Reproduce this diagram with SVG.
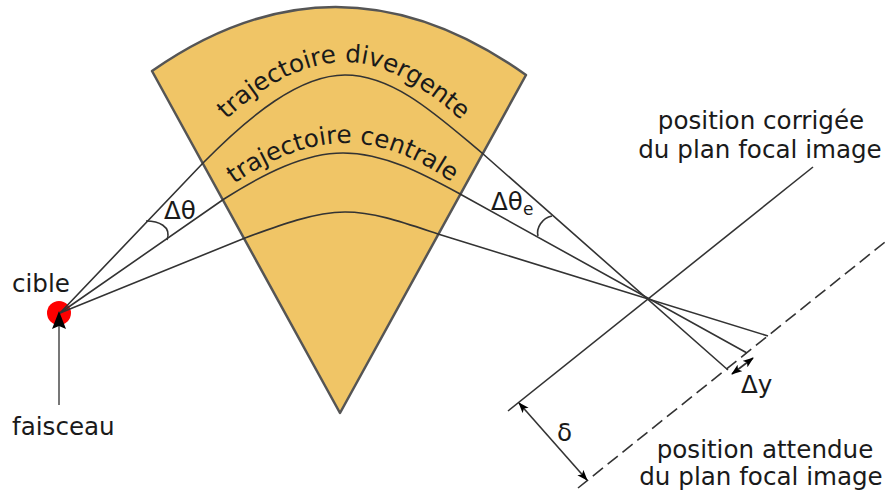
<svg xmlns="http://www.w3.org/2000/svg" width="885" height="493" viewBox="0 0 885 493">
<style>
text{font-family:"DejaVu Sans",sans-serif;font-size:24.600px;fill:#1a1a1a}
.m{text-anchor:middle}
.l{fill:none;stroke:#333;stroke-width:1.600}
</style>
<defs>
<marker id="a" markerWidth="12" markerHeight="10" refX="10" refY="4" orient="auto-start-reverse" markerUnits="userSpaceOnUse"><path d="M0 0L11 4L0 8L2.500 4Z" fill="#000"/></marker>
<marker id="b" markerWidth="20" markerHeight="16" refX="17" refY="7" orient="auto" markerUnits="userSpaceOnUse"><path d="M0 0L18 7L0 14L3 7Z" fill="#000"/></marker>
<path id="p1" d="M216 130C258 86 305 62 345 62C387 62 428 89 472 130"/>
<path id="p2" d="M222 193C262 162 305 143 345 143C387 143 425 162 464 191"/>
</defs>
<g id="aimant"><path d="M152 71Q338 -59 526 75L340 413Z" fill="#f0c566" stroke="#555" stroke-width="2.500" stroke-linejoin="round"/></g>
<g id="cible"><circle cx="59" cy="313" r="12" fill="#f00"/></g>
<g id="connecteurs">
<path class="l" d="M60 313L203 163C250 115 300 75 345 75C395 75 440 118 482 153L728 370"/>
<path class="l" d="M60 313L224 199C265 173 305 153 343 153C385 153 425 175 460 194L747 353"/>
<path class="l" d="M60 313L245 238C280 225 315 212 345 212C375 212 405 223 438 234L768 336"/>
<path class="l" style="stroke:#555" d="M59 405V312" marker-end="url(#b)"/>
<path class="l" d="M146 221C158 221 172 226 167 240"/>
<path class="l" d="M538 236C536 228 542 218 552 216"/>
<path class="l" d="M508 411L813 167"/>
<path class="l" stroke-dasharray="13 6" d="M578 488L885 242"/>
<path class="l" d="M519 403L587 480" marker-start="url(#a)" marker-end="url(#a)"/>
<path class="l" d="M732 374L753 358" marker-start="url(#a)" marker-end="url(#a)"/>
</g>
<g id="labels">
<text class="m"><textPath href="#p1" startOffset="50%">trajectoire divergente</textPath></text>
<text class="m"><textPath href="#p2" startOffset="50%">trajectoire centrale</textPath></text>
<text x="12" y="292">cible</text>
<text x="12" y="435">faisceau</text>
<text x="164" y="219">Δθ</text>
<text x="491" y="210">Δθ<tspan font-size="17" dy="5">e</tspan></text>
<text x="741" y="393">Δy</text>
<text x="557" y="441">δ</text>
<text class="m" x="761" y="129">position corrigée</text>
<text class="m" x="760" y="158">du plan focal image</text>
<text class="m" x="765" y="458">position attendue</text>
<text class="m" x="761" y="485">du plan focal image</text>
</g>
</svg>
